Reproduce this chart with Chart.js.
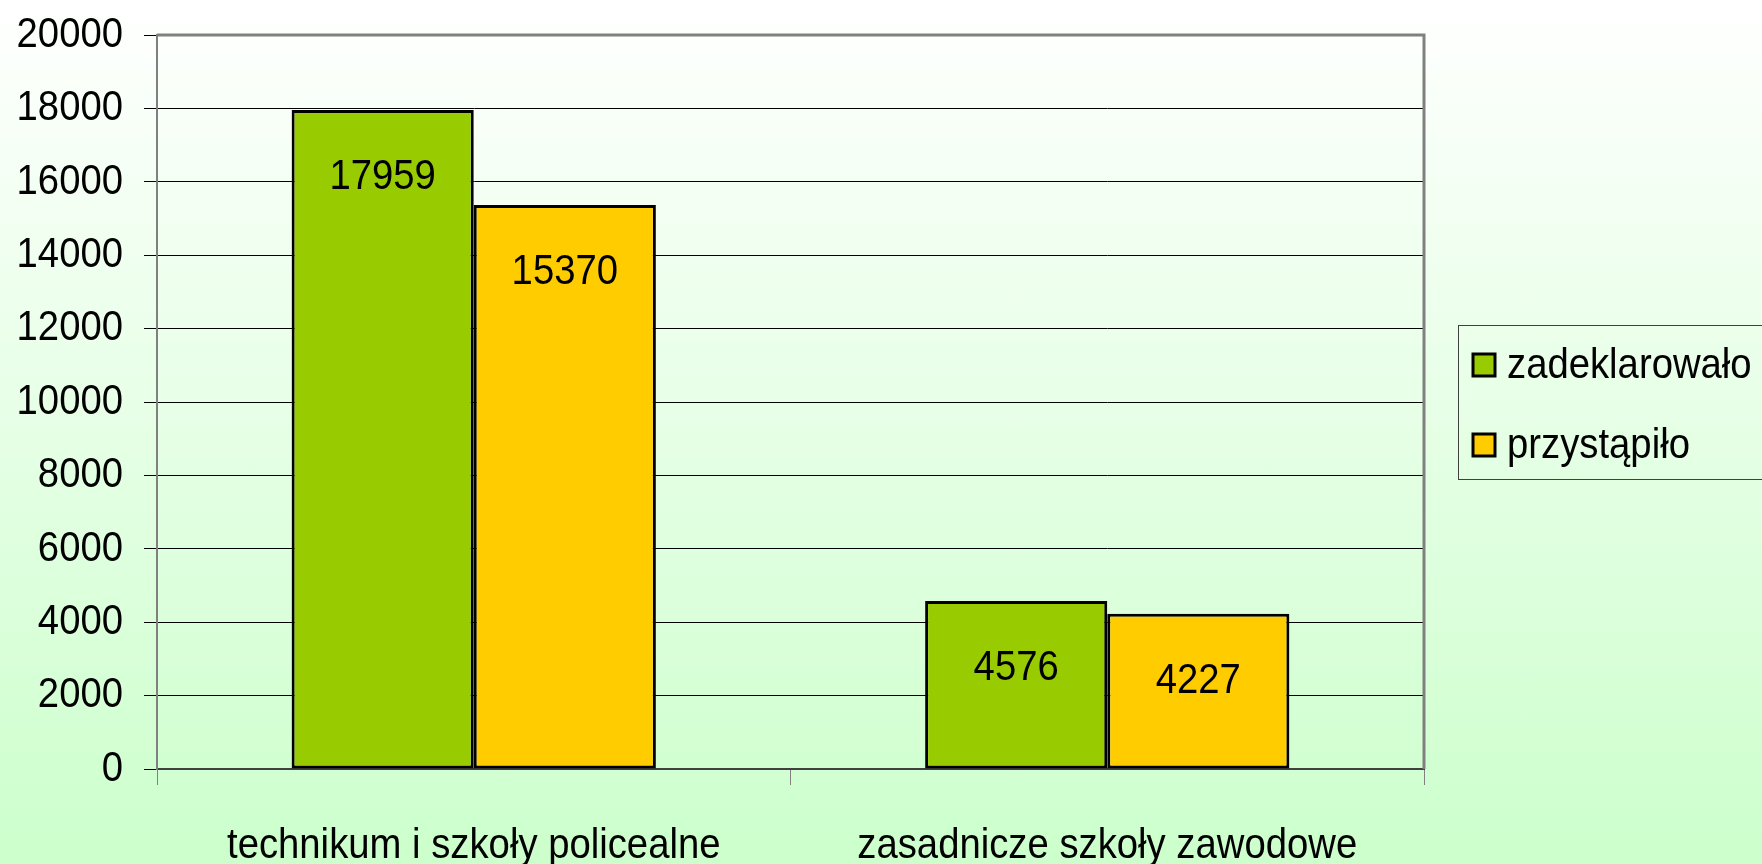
<!DOCTYPE html>
<html>
<head>
<meta charset="utf-8">
<script src="https://cdn.jsdelivr.net/npm/chart.js@4/dist/chart.umd.min.js"></script>
<style>
    html, body { margin: 0; padding: 0; }
    body {
        width: 1762px;
        height: 864px;
        overflow: hidden;
        background: linear-gradient(to bottom, #ffffff 0%, #ccffcc 100%);
    }
    #wrap { width: 1762px; height: 864px; position: relative; }
</style>
</head>
<body>
<div id="wrap"><canvas id="chart"></canvas></div>
<script>
// Data
const categories = ['technikum i szkoły policealne', 'zasadnicze szkoły zawodowe'];
const zadeklarowalo = [17959, 4576];
const przystapilo = [15370, 4227];
const seriesNames = ['zadeklarowało', 'przystąpiło'];
const yMin = 0;
const yMax = 20000;
const yStep = 2000;

const FONT = "'Liberation Sans', Arial, sans-serif";
const FONT_SIZE = 43;
const SQUEEZE = 0.89; // the original text is a bit condensed

const canvas = document.getElementById('chart');
const c2d = canvas.getContext('2d');

// squeeze every text horizontally around its anchor point
const origFillText = c2d.fillText;
c2d.fillText = function(text, x, y, maxWidth) {
    this.save();
    this.translate(x, y);
    this.scale(SQUEEZE, 1);
    origFillText.call(this, text, 0, 0);
    this.restore();
};

// value labels inside the bars, a bit below the top
const valueLabels = {
    id: 'valueLabels',
    afterDatasetsDraw(chart) {
        const ctx = chart.ctx;
        ctx.save();
        ctx.font = FONT_SIZE + 'px ' + FONT;
        ctx.fillStyle = '#000';
        ctx.textAlign = 'center';
        ctx.textBaseline = 'middle';
        chart.data.datasets.forEach((ds, i) => {
            const meta = chart.getDatasetMeta(i);
            meta.data.forEach((bar, j) => {
                ctx.fillText(String(ds.data[j]), bar.x, bar.y + 67);
            });
        });
        ctx.restore();
    }
};

// grey frame on top and right of plot area
const plotFrame = {
    id: 'plotFrame',
    afterDraw(chart) {
        const a = chart.chartArea;
        const ctx = chart.ctx;
        ctx.save();
        ctx.strokeStyle = '#808080';
        ctx.lineWidth = 3;
        ctx.beginPath();
        ctx.moveTo(a.left, a.top);
        ctx.lineTo(a.right, a.top);
        ctx.lineTo(a.right, a.bottom);
        ctx.stroke();
        ctx.restore();
    }
};

// boxed legend on the right
const boxLegend = {
    id: 'boxLegend',
    afterDraw(chart) {
        const ctx = chart.ctx;
        ctx.save();
        ctx.strokeStyle = '#404040';
        ctx.lineWidth = 1;
        ctx.strokeRect(1458.5, 325.5, 330, 154);
        ctx.font = FONT_SIZE + 'px ' + FONT;
        ctx.textAlign = 'left';
        ctx.textBaseline = 'middle';
        chart.data.datasets.forEach((ds, i) => {
            const cy = 365 + i * 80;
            ctx.fillStyle = ds.backgroundColor;
            ctx.fillRect(1473, cy - 11, 22, 22);
            ctx.strokeStyle = '#000';
            ctx.lineWidth = 3;
            ctx.strokeRect(1473, cy - 11, 22, 22);
            ctx.fillStyle = '#000';
            ctx.fillText(ds.label, 1507, cy + 1);
        });
        ctx.restore();
    }
};

new Chart(canvas, {
    type: 'bar',
    data: {
        labels: categories,
        datasets: [
            {
                label: seriesNames[0],
                data: zadeklarowalo,
                backgroundColor: '#99cc00',
                borderColor: '#000',
                borderWidth: 3,
                borderSkipped: false
            },
            {
                label: seriesNames[1],
                data: przystapilo,
                backgroundColor: '#ffcc00',
                borderColor: '#000',
                borderWidth: 3,
                borderSkipped: false
            }
        ]
    },
    options: {
        responsive: true,
        maintainAspectRatio: false,
        animation: false,
        layout: { padding: { top: 35, right: 338, left: 0, bottom: 0 } },
        datasets: {
            bar: { categoryPercentage: 0.575, barPercentage: 1 }
        },
        plugins: {
            legend: { display: false },
            tooltip: { enabled: false }
        },
        scales: {
            x: {
                afterFit: (s) => { s.height = 95; },
                grid: {
                    offset: true,
                    drawOnChartArea: false,
                    drawTicks: true,
                    tickLength: 16,
                    color: '#808080',
                    lineWidth: 1
                },
                border: { color: '#404040', width: 2 },
                ticks: {
                    color: '#000',
                    font: { family: FONT, size: FONT_SIZE },
                    padding: 35,
                    maxRotation: 0,
                    autoSkip: false
                }
            },
            y: {
                min: yMin,
                max: yMax,
                afterFit: (s) => { s.width = 157; },
                grid: {
                    color: '#000',
                    lineWidth: 1,
                    tickLength: 13
                },
                border: { color: '#808080', width: 2 },
                ticks: {
                    stepSize: yStep,
                    color: '#000',
                    // small lineHeight so the top label does not push the plot down
                    font: { family: FONT, size: FONT_SIZE, lineHeight: 0.6 },
                    padding: 21,
                    callback: (v) => String(v)
                }
            }
        }
    },
    plugins: [valueLabels, plotFrame, boxLegend]
});
</script>
</body>
</html>
